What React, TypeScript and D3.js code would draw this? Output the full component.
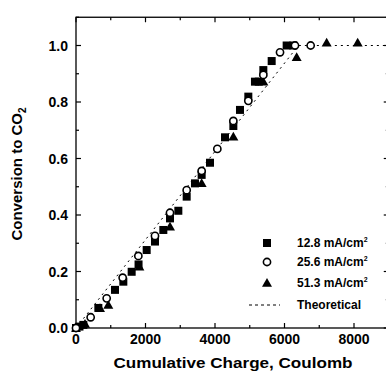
import React from "react";
import * as d3 from "d3";

const sq128: [number, number][] = [
  [0, 0], [100, 0.005], [211, 0.011], [643, 0.071], [1122, 0.135], [1362, 0.164], [1602, 0.199],
  [1800, 0.225], [2034, 0.276], [2273, 0.306], [2513, 0.347], [2705, 0.388], [2945, 0.415],
  [3185, 0.465], [3424, 0.512], [3616, 0.542], [3856, 0.585], [4288, 0.675], [4528, 0.715],
  [4719, 0.772], [4959, 0.819], [5150, 0.872], [5260, 0.872], [5391, 0.913], [5631, 0.945], [6062, 1.0], [6254, 1.0],
];
const circ256: [number, number][] = [
  [0, 0], [422, 0.038], [883, 0.105], [1343, 0.178], [1794, 0.255], [2273, 0.326], [2705, 0.408],
  [3185, 0.488], [3616, 0.556], [4067, 0.634], [4528, 0.733], [4959, 0.804], [5391, 0.896],
  [5871, 0.976], [6302, 1.0], [6753, 1.0],
];
const tri513: [number, number][] = [
  [0, 0], [259, 0.014], [691, 0.07], [930, 0.081], [1823, 0.217], [2705, 0.358], [3616, 0.512],
  [4528, 0.677], [5391, 0.872], [6350, 0.958], [7213, 1.01], [8106, 1.01],
];
const theoretical: [number, number][] = [[0, 0], [6400, 1.0], [9000, 1.0]];
const xTicks = [0, 2000, 4000, 6000, 8000];
const yTicks = [0, 0.2, 0.4, 0.6, 0.8, 1.0];
const legendLabels = ["12.8 mA/cm", "25.6 mA/cm", "51.3 mA/cm", "Theoretical"];

const L = 76, R = 388.75, T = 17.25, B = 328;
const FONT = "'Liberation Sans', Arial, Helvetica, sans-serif";

export default function App() {
  const x = d3.scaleLinear().domain([0, 9000]).range([L, R]);
  const y = d3.scaleLinear().domain([0, 1.1]).range([B, T]);
  const line = d3.line<[number, number]>().x((d) => x(d[0])).y((d) => y(d[1]));
  const xMinor = d3.range(0, 9001, 1000);
  const yMinor = d3.range(0, 1.101, 0.1);
  const tri = (cx: number, cy: number, s = 5) =>
    `M${cx},${cy - s} L${cx + s},${cy + s * 0.75} L${cx - s},${cy + s * 0.75} Z`;
  const sq = (cx: number, cy: number, k: string) => (
    <rect key={k} x={cx - 4} y={cy - 4} width={8} height={8} fill="#000" />
  );
  const ci = (cx: number, cy: number, k: string) => (
    <circle key={k} cx={cx} cy={cy} r={3.6} fill="#fff" stroke="#000" strokeWidth={1.6} />
  );
  const legY = [243, 262, 283, 305];
  return (
    <svg width={386} height={376} style={{ position: "absolute", left: 0, top: 0, background: "#fff" }}>
      <rect x={0} y={0} width={386} height={376} fill="#fff" />
      <rect x={L} y={T} width={R - L} height={B - T} fill="none" stroke="#000" strokeWidth={1.3} />
      {xMinor.map((v) => {
        const major = v % 2000 === 0;
        const len = major ? 5 : 3;
        return (
          <g key={"xt" + v}>
            <line x1={x(v)} x2={x(v)} y1={B} y2={B - len} stroke="#000" strokeWidth={1.2} />
            <line x1={x(v)} x2={x(v)} y1={T} y2={T + len} stroke="#000" strokeWidth={1.2} />
          </g>
        );
      })}
      {yMinor.map((v, i) => {
        const len = i % 2 === 0 ? 5 : 3;
        return (
          <g key={"yt" + i}>
            <line x1={L} x2={L + len} y1={y(v)} y2={y(v)} stroke="#000" strokeWidth={1.2} />
            <line x1={R} x2={R - len} y1={y(v)} y2={y(v)} stroke="#000" strokeWidth={1.2} />
          </g>
        );
      })}
      {xTicks.map((v) => (
        <text key={"xl" + v} x={x(v)} y={B + 16} textAnchor="middle" fontFamily={FONT} fontWeight="bold" fontSize={14}>
          {v}
        </text>
      ))}
      {yTicks.map((v) => (
        <text key={"yl" + v} x={L - 8} y={y(v) + 5} textAnchor="end" fontFamily={FONT} fontWeight="bold" fontSize={14}>
          {v.toFixed(1)}
        </text>
      ))}
      <text x={233} y={368} textAnchor="middle" fontFamily={FONT} fontWeight="bold" fontSize={15}
        textLength={239} lengthAdjust="spacingAndGlyphs">
        Cumulative Charge, Coulomb
      </text>
      <text transform="translate(22,174) rotate(-90)" textAnchor="middle" fontFamily={FONT} fontWeight="bold" fontSize={15}>
        Conversion to CO<tspan fontSize={10} dy={4}>2</tspan>
      </text>
      <path d={line(theoretical) || ""} fill="none" stroke="#000" strokeWidth={1} strokeDasharray="2,4" />
      {tri513.map((d, i) => (
        <path key={"t" + i} d={tri(x(d[0]), y(d[1]))} fill="#000" />
      ))}
      {sq128.map((d, i) => sq(x(d[0]), y(d[1]), "s" + i))}
      {circ256.map((d, i) => ci(x(d[0]), y(d[1]), "c" + i))}
      {sq(267, legY[0], "ls")}
      {ci(267, legY[1], "lc")}
      <path d={tri(267, legY[2])} fill="#000" />
      <line x1={249} x2={280} y1={legY[3]} y2={legY[3]} stroke="#000" strokeWidth={1} strokeDasharray="3,3" />
      {legendLabels.map((t, i) => (
        <text key={"lg" + i} x={297} y={legY[i] + 4} fontFamily={FONT} fontWeight="bold" fontSize={12}>
          {t}
          {i < 3 ? <tspan fontSize={7} dy={-5}>2</tspan> : null}
        </text>
      ))}
    </svg>
  );
}
